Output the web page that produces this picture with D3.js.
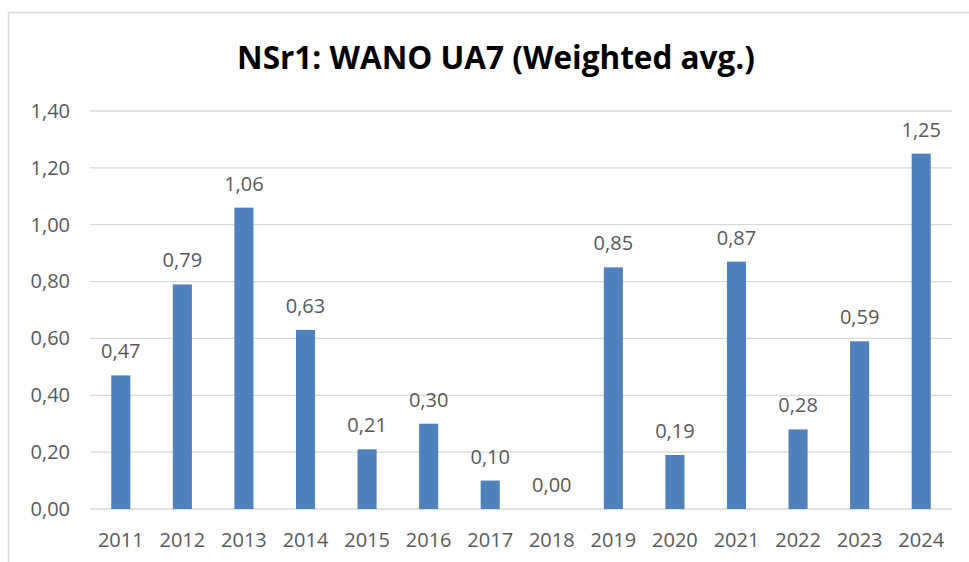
<!DOCTYPE html>
<html>
<head>
<meta charset="utf-8">
<script src="https://cdn.jsdelivr.net/npm/d3@7"></script>
<style>
  body { margin: 0; background: #fff; }
  svg { display: block; }
</style>
</head>
<body>
<div id="chart"></div>
<script>
var years = ["2011", "2012", "2013", "2014", "2015", "2016", "2017", "2018", "2019", "2020", "2021", "2022", "2023", "2024"];
var values = [0.47, 0.79, 1.06, 0.63, 0.21, 0.30, 0.10, 0.00, 0.85, 0.19, 0.87, 0.28, 0.59, 1.25];
var yTicks = [0, 0.2, 0.4, 0.6, 0.8, 1.0, 1.2, 1.4];
var chartTitle = "NSr1: WANO UA7 (Weighted avg.)";

var width = 969, height = 562;
var margin = { top: 111, right: 17, bottom: 53, left: 90 };
var labelFont = '"Open Sans", sans-serif';

var fmt = function (v) { return d3.format(".2f")(v).replace(".", ","); };

var svg = d3.select('#chart')
    .append('svg')
    .attr('width', width)
    .attr('height', height);

// chart frame
svg.append('rect')
    .attr('x', 8.5).attr('y', 12.5)
    .attr('width', width + 20).attr('height', height + 20)
    .attr('fill', 'none')
    .attr('stroke', '#d9d9d9')
    .attr('stroke-width', 1.5);

var x = d3.scaleBand()
    .domain(years)
    .range([margin.left, width - margin.right])
    .paddingInner(0.69)
    .paddingOuter(0.345);

var y = d3.scaleLinear()
    .domain([0, 1.4])
    .range([height - margin.bottom, margin.top]);

// gridlines
svg.append('g')
    .selectAll('line')
    .data(yTicks)
    .enter()
    .append('line')
    .attr('x1', margin.left)
    .attr('x2', width - margin.right)
    .attr('y1', function (d) { return y(d); })
    .attr('y2', function (d) { return y(d); })
    .attr('stroke', '#d9d9d9')
    .attr('stroke-width', 1.3);

// y axis labels
var yAxis = svg.append('g')
    .attr('transform', `translate(${margin.left - 20}, 0)`)
    .call(d3.axisLeft(y).tickValues(yTicks).tickFormat(fmt).tickSize(0).tickPadding(0));
yAxis.select('.domain').remove();
yAxis.selectAll('text')
    .attr('fill', '#595959')
    .style('font-family', labelFont)
    .style('font-size', '20px');

// x axis labels
var xAxis = svg.append('g')
    .attr('transform', `translate(0, ${height - margin.bottom})`)
    .call(d3.axisBottom(x).tickSize(0).tickPadding(24));
xAxis.select('.domain').remove();
xAxis.selectAll('text')
    .attr('fill', '#595959')
    .style('font-family', labelFont)
    .style('font-size', '20px');

// bars
svg.append('g')
    .selectAll('rect')
    .data(values)
    .enter()
    .append('rect')
    .attr('x', function (d, i) { return x(years[i]); })
    .attr('y', function (d) { return y(d); })
    .attr('width', x.bandwidth())
    .attr('height', function (d) { return y(0) - y(d); })
    .attr('fill', '#4f81bd');

// value labels
svg.append('g')
    .selectAll('text')
    .data(values)
    .enter()
    .append('text')
    .attr('x', function (d, i) { return x(years[i]) + x.bandwidth() / 2; })
    .attr('y', function (d) { return y(d) - 17; })
    .attr('text-anchor', 'middle')
    .attr('fill', '#595959')
    .style('font-family', labelFont)
    .style('font-size', '20px')
    .text(function (d) { return fmt(d); });

// title
svg.append('text')
    .attr('x', 496)
    .attr('y', 69)
    .attr('text-anchor', 'middle')
    .attr('fill', '#000')
    .style('font-family', labelFont)
    .style('font-weight', 'bold')
    .style('font-size', '31.5px')
    .text(chartTitle);
</script>
</body>
</html>
